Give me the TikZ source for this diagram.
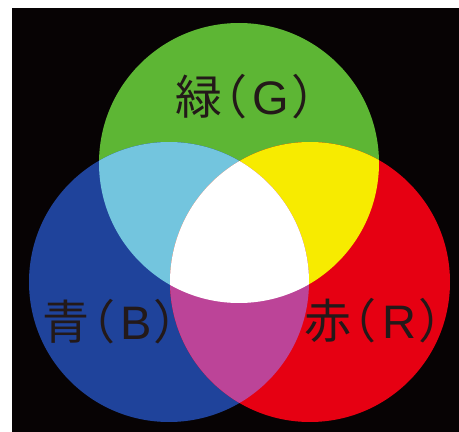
\documentclass[tikz,border=0pt]{standalone}
\usepackage{fontspec}
\newfontfamily\jpfont[RawFeature=+palt]{Noto Sans CJK JP}
\newfontfamily\latfont{Liberation Sans}
\definecolor{bgblack}{RGB}{7,3,4}
\definecolor{lgreen}{RGB}{93,182,52}
\definecolor{lblue}{RGB}{31,67,155}
\definecolor{lred}{RGB}{230,0,18}
\definecolor{lcyan}{RGB}{115,197,222}
\definecolor{lyellow}{RGB}{247,235,0}
\definecolor{lmagenta}{RGB}{188,68,152}
\definecolor{inkdark}{RGB}{35,25,25}
\newcommand{\lamplabel}[2]{#1（\hspace{7pt}{\latfont #2}\hspace{4pt}）}

\begin{document}
\begin{tikzpicture}[
    x=1pt, y=1pt,
    lbl/.style={font=\jpfont\fontsize{47}{47}\selectfont, text=inkdark, inner sep=0pt},
  ]
  \def\rad{140}
  \useasboundingbox (0,0) rectangle (459,432);
  % Background
  \fill[bgblack] (12,0) rectangle (459,424);
  % Lamp centres
  \coordinate (g) at (239,269);
  \coordinate (b) at (169,150);
  \coordinate (r) at (310,150);

  % Single colours
  \fill[lgreen] (g) circle (\rad);
  \fill[lblue]  (b) circle (\rad);
  \fill[lred]   (r) circle (\rad);
  % Pairs
  \begin{scope}
    \clip (g) circle (\rad);
    \fill[lcyan] (b) circle (\rad);
    \fill[lyellow] (r) circle (\rad);
  \end{scope}
  \begin{scope}
    \clip (b) circle (\rad);
    \fill[lmagenta] (r) circle (\rad);
  \end{scope}
  % All three
  \begin{scope}
    \clip (g) circle (\rad);
    \clip (b) circle (\rad);
    \fill[white] (r) circle (\rad);
  \end{scope}

  % Labels
  \node[lbl] (gtext) at (246,335) {\lamplabel{緑}{G}};
  \node[lbl] (btext) at (111,110) {\lamplabel{青}{B}};
  \node[lbl] (rtext) at (374,111) {\lamplabel{赤}{R}};
\end{tikzpicture}
\end{document}
